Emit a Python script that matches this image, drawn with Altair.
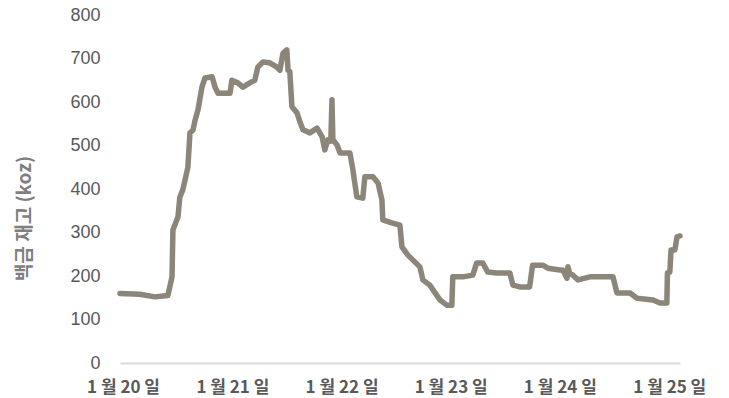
import altair as alt
import pandas as pd

dates = [
    "2019-12-22", "2020-02-26", "2020-04-17", "2020-05-30", "2020-06-13", "2020-06-16",
    "2020-07-03", "2020-07-09", "2020-07-19", "2020-07-29", "2020-08-05", "2020-08-12",
    "2020-08-22", "2020-08-29", "2020-09-08", "2020-09-21", "2020-10-01", "2020-10-25",
    "2020-11-04", "2020-11-14", "2020-12-24", "2020-12-30", "2021-01-19", "2021-02-05",
    "2021-02-28", "2021-03-17", "2021-03-27", "2021-04-13", "2021-05-06", "2021-05-30",
    "2021-06-09", "2021-06-19", "2021-07-02", "2021-07-06", "2021-07-12", "2021-07-19",
    "2021-08-05", "2021-08-15", "2021-08-25", "2021-09-17", "2021-10-11", "2021-10-28",
    "2021-11-06", "2021-11-16", "2021-11-26", "2021-11-30", "2021-12-03", "2021-12-17",
    "2021-12-27", "2022-01-29", "2022-02-08", "2022-02-21", "2022-03-13", "2022-03-20",
    "2022-04-16", "2022-05-03", "2022-05-16", "2022-05-19", "2022-06-18", "2022-07-15",
    "2022-07-22", "2022-08-11", "2022-09-20", "2022-09-30", "2022-10-23", "2022-11-26",
    "2022-12-19", "2023-01-05", "2023-01-08", "2023-02-11", "2023-03-16", "2023-03-29",
    "2023-04-18", "2023-05-05", "2023-06-04", "2023-07-18", "2023-07-28", "2023-08-20",
    "2023-09-22", "2023-10-02", "2023-11-05", "2023-11-22", "2024-01-01", "2024-01-11",
    "2024-01-25", "2024-01-28", "2024-02-04", "2024-02-14", "2024-03-02", "2024-04-11",
    "2024-06-27", "2024-07-10", "2024-08-23", "2024-09-15", "2024-11-08", "2024-12-01",
    "2024-12-24", "2024-12-26", "2025-01-03", "2025-01-07", "2025-01-20", "2025-01-27",
    "2025-02-06",
]
values = [
    160, 158, 152, 155, 198, 306,
    336, 381, 398, 428, 450, 529,
    535, 558, 582, 634, 655, 658,
    634, 620, 620, 650, 644, 634,
    644, 650, 680, 692, 690, 680,
    673, 712, 720, 673, 670, 589,
    575, 554, 536, 529, 540, 520,
    490, 513, 510, 605, 513, 501,
    483, 483, 444, 382, 379, 428,
    428, 414, 375, 329, 322, 317,
    267, 248, 221, 191, 179, 145,
    133, 133, 198, 198, 202, 230,
    230, 209, 207, 207, 179, 175,
    175, 225, 225, 218, 214, 214,
    195, 221, 205, 202, 191, 198,
    198, 161, 161, 149, 145, 138,
    138, 207, 209, 260, 260, 290,
    292,
]
y_ticks = [0, 100, 200, 300, 400, 500, 600, 700, 800]
x_ticks = ["2020-01-01", "2021-01-01", "2022-01-01", "2023-01-01", "2024-01-01", "2025-01-01"]
y_title = "백금 재고 (koz)"

df = pd.DataFrame({"date": pd.to_datetime(dates), "value": values})

x_tick_vals = [alt.DateTime(year=int(d[:4]), month=1, date=1) for d in x_ticks]

chart = alt.Chart(df).mark_line(
    color="#8c8579", strokeWidth=5.5, strokeJoin="round", strokeCap="round"
).encode(
    x=alt.X(
        "date:T",
        scale=alt.Scale(domain=[alt.DateTime(year=2019, month=12, date=22),
                                alt.DateTime(year=2025, month=2, date=6)]),
        axis=alt.Axis(
            values=x_tick_vals,
            labelExpr="'1 월 ' + timeFormat(datum.value, '%y') + ' 일'",
            title=None, grid=False, ticks=False,
            domainColor="#d9d9d9", domainWidth=2,
            labelFont="Noto Sans CJK KR", labelFontWeight="bold",
            labelFontSize=17, labelColor="#595959", labelPadding=16,
            labelOverlap=False,
        ),
    ),
    y=alt.Y(
        "value:Q",
        scale=alt.Scale(domain=[0, 800], nice=False),
        axis=alt.Axis(
            values=y_ticks, title=y_title, grid=False, ticks=False, domain=False,
            labelFont="Liberation Sans", labelFontSize=18, labelColor="#595959",
            labelPadding=20,
            titleFont="Noto Sans CJK KR", titleFontWeight="bold", titleFontSize=19,
            titleColor="#7f7f7f", titleX=-96, titleY=203, titleBaseline="middle",
            titleAlign="center",
        ),
    ),
).properties(
    width=560, height=348,
    autosize=alt.AutoSizeParams(type="none"),
    padding={"left": 120, "top": 15, "right": 49, "bottom": 35},
).configure_view(stroke=None)

chart.save("out.html", embed_options={"renderer": "svg", "actions": False})
